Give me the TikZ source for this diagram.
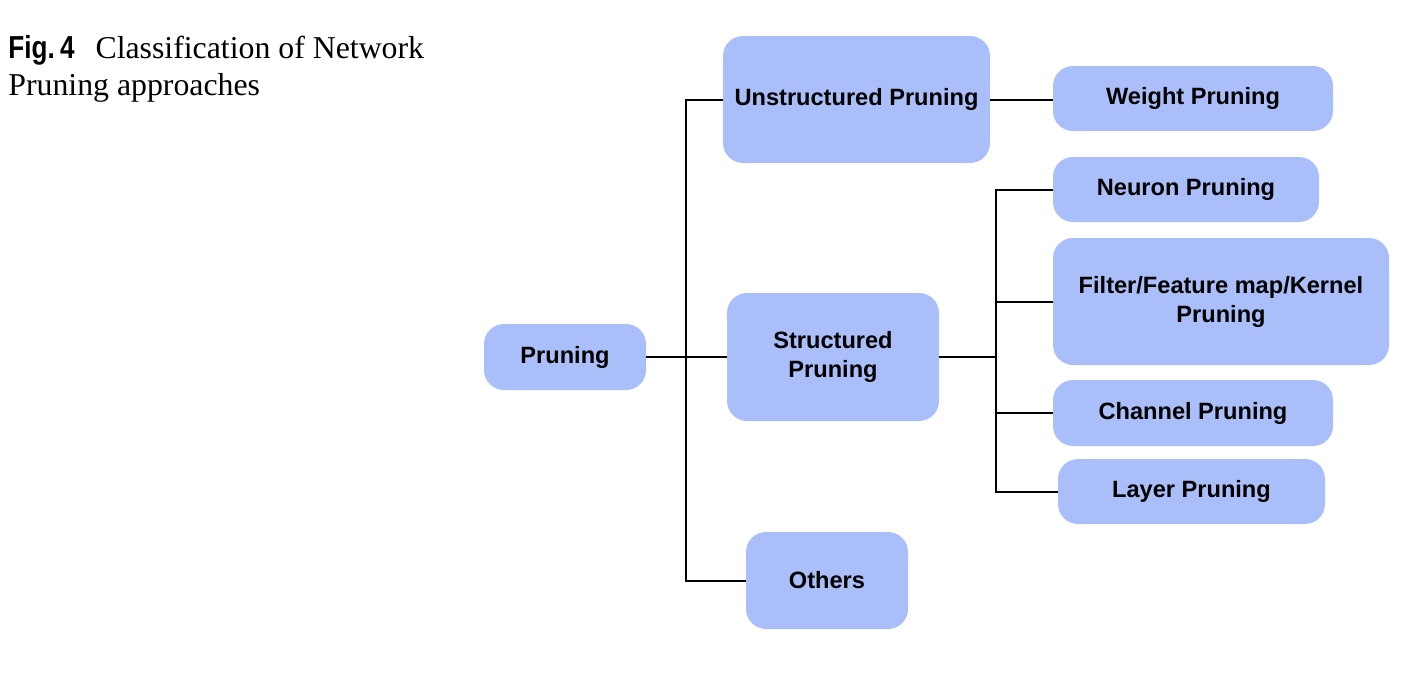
\documentclass[tikz,border=0pt]{standalone}
\usepackage{fontspec}
\setmainfont{Liberation Serif}
\newfontfamily\boxfont{Liberation Sans}
\newfontfamily\figfont[FakeStretch=0.82]{Liberation Sans}
\definecolor{boxblue}{HTML}{AABEF9}
\begin{document}
\begin{tikzpicture}[x=0.5pt,y=-0.5pt,
  box/.style={fill=boxblue, draw=none, rounded corners=10pt, inner sep=0pt,
    align=center, font=\boxfont\bfseries\fontsize{11.8}{14.5}\selectfont},
  conn/.style={draw=black, line width=1pt}]
\useasboundingbox (0,0) rectangle (1404,696);
% caption
\node[anchor=base west, inner sep=0pt, font=\fontsize{15.9}{18.5}\selectfont] (cap1) at (8,58)
  {{\figfont\bfseries Fig.\,4}\hspace{10.5pt}Classification of Network};
\node[anchor=base west, inner sep=0pt, font=\fontsize{15.9}{18.5}\selectfont] (cap2) at (8,95)
  {Pruning approaches};
% boxes
\node[box, minimum width=81pt, minimum height=33pt] (prun) at (565,357) {Pruning};
\node[box, minimum width=133.5pt, minimum height=63.5pt] (unst) at (856.5,99.5) {Unstructured Pruning};
\node[box, minimum width=106pt, minimum height=64pt] (struc) at (833,357) {Structured\\Pruning};
\node[box, minimum width=81pt, minimum height=48.5pt] (oth) at (827,580.5) {Others};
\node[box, minimum width=140pt, minimum height=32.5pt] (weig) at (1193,98.5) {Weight Pruning};
\node[box, minimum width=133pt, minimum height=32.5pt] (neur) at (1186,189.5) {Neuron Pruning};
\node[box, minimum width=168pt, minimum height=63.5pt] (filt) at (1221,301.5) {Filter/Feature map/Kernel\\Pruning};
\node[box, minimum width=140pt, minimum height=33pt] (chan) at (1193,413) {Channel Pruning};
\node[box, minimum width=133.5pt, minimum height=32.5pt] (layr) at (1191.5,491.5) {Layer Pruning};
% junctions
\coordinate (j1) at (686,357);
\coordinate (j2) at (996,357);
% connectors
\draw[conn] (prun.east) -- (struc.west);
\draw[conn] (unst.west) -| (j1) |- (oth.west);
\draw[conn] (unst.east) -- (unst.east -| weig.west);
\draw[conn] (struc.east) -- (j2);
\draw[conn] (neur.west) -| (j2) |- (layr.west);
\draw[conn] (filt.west) -- (filt.west -| j2);
\draw[conn] (chan.west) -- (chan.west -| j2);
\end{tikzpicture}
\end{document}
